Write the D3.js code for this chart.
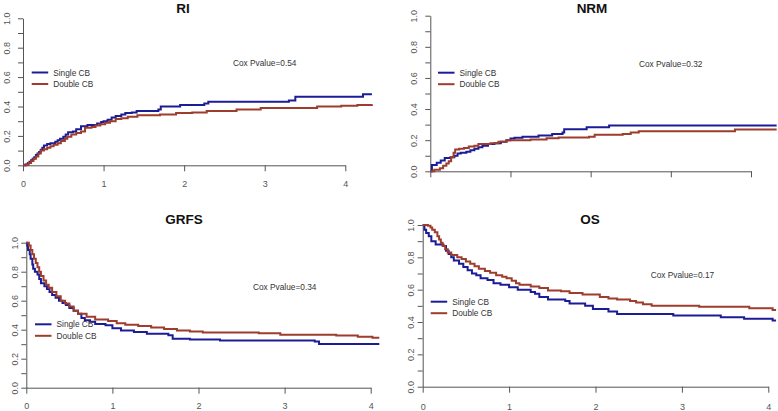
<!DOCTYPE html>
<html><head><meta charset="utf-8">
<script src="https://cdn.jsdelivr.net/npm/d3@7"></script>
<style>body{margin:0;background:#fff}svg{display:block}</style>
</head><body>
<svg id="c" width="778" height="411"></svg>
<script>
// ---------- data (time in years, cumulative value) ----------
const seriesNames = ["Single CB", "Double CB"];
const yTickValues = [0, 0.1, 0.2, 0.3, 0.4, 0.5, 0.6, 0.7, 0.8, 0.9, 1.0];
const yTickLabels = ["0.0", "", "0.2", "", "0.4", "", "0.6", "", "0.8", "", "1.0"];
const xTickValues = [0, 1, 2, 3, 4];
const xTickLabels = ["0", "1", "2", "3", "4"];
const panelTitles = ["RI", "NRM", "GRFS", "OS"];
const coxPvalues = ["0.54", "0.32", "0.34", "0.17"];

const riSingle = [[0,0],[0.03,0.005],[0.06,0.015],[0.08,0.025],[0.1,0.035],[0.12,0.045],[0.14,0.055],[0.16,0.07],[0.18,0.08],[0.2,0.09],[0.22,0.105],[0.24,0.12],[0.26,0.135],[0.3,0.145],[0.34,0.15],[0.4,0.16],[0.43,0.17],[0.46,0.18],[0.5,0.195],[0.53,0.21],[0.56,0.225],[0.62,0.23],[0.66,0.245],[0.72,0.265],[0.8,0.275],[0.92,0.285],[0.97,0.295],[1.0,0.3],[1.05,0.31],[1.1,0.325],[1.15,0.335],[1.22,0.345],[1.27,0.355],[1.35,0.36],[1.41,0.37],[1.68,0.38],[1.71,0.4],[1.95,0.41],[2.25,0.42],[2.3,0.433],[3.3,0.44],[3.38,0.467],[4.22,0.483],[4.33,0.483]];
const riDouble = [[0,0],[0.04,0.005],[0.07,0.015],[0.1,0.03],[0.13,0.045],[0.16,0.06],[0.19,0.08],[0.22,0.1],[0.26,0.11],[0.3,0.12],[0.34,0.13],[0.38,0.14],[0.43,0.15],[0.47,0.165],[0.52,0.18],[0.55,0.195],[0.6,0.21],[0.66,0.22],[0.72,0.23],[0.77,0.255],[0.85,0.26],[0.9,0.27],[0.96,0.28],[1.02,0.29],[1.08,0.3],[1.15,0.315],[1.22,0.32],[1.3,0.33],[1.42,0.34],[1.7,0.345],[1.9,0.355],[2.1,0.36],[2.28,0.37],[2.65,0.38],[2.95,0.39],[3.65,0.4],[3.95,0.405],[4.15,0.41],[4.33,0.415]];

const nrmSingle = [[0,0],[0.02,0.04],[0.08,0.055],[0.13,0.07],[0.18,0.085],[0.25,0.09],[0.3,0.1],[0.34,0.115],[0.38,0.12],[0.45,0.125],[0.5,0.135],[0.55,0.145],[0.6,0.155],[0.65,0.165],[0.72,0.175],[0.8,0.18],[0.88,0.19],[0.95,0.2],[1.0,0.21],[1.05,0.215],[1.15,0.222],[1.35,0.23],[1.52,0.24],[1.65,0.25],[1.67,0.27],[1.95,0.283],[2.23,0.295],[4.32,0.295]];
const nrmDouble = [[0,0],[0.05,0.01],[0.12,0.02],[0.16,0.035],[0.2,0.05],[0.23,0.065],[0.26,0.09],[0.29,0.12],[0.31,0.14],[0.36,0.145],[0.42,0.15],[0.48,0.16],[0.55,0.165],[0.6,0.175],[0.75,0.18],[0.85,0.19],[0.95,0.2],[1.25,0.205],[1.45,0.212],[1.6,0.218],[1.98,0.222],[2.05,0.235],[2.4,0.24],[2.5,0.25],[2.6,0.258],[3.8,0.268],[4.32,0.268]];

const grfsSingle = [[0,1],[0.01,0.98],[0.02,0.95],[0.04,0.92],[0.05,0.89],[0.07,0.85],[0.08,0.82],[0.1,0.8],[0.13,0.78],[0.15,0.75],[0.17,0.72],[0.21,0.7],[0.24,0.68],[0.27,0.66],[0.3,0.64],[0.34,0.62],[0.38,0.6],[0.42,0.585],[0.46,0.57],[0.5,0.55],[0.55,0.53],[0.6,0.51],[0.64,0.48],[0.68,0.465],[0.74,0.455],[0.8,0.44],[0.92,0.43],[1.0,0.41],[1.1,0.395],[1.25,0.385],[1.4,0.372],[1.65,0.362],[1.7,0.338],[1.9,0.332],[2.25,0.325],[3.35,0.318],[3.4,0.302],[4.1,0.302]];
const grfsDouble = [[0,1],[0.03,0.98],[0.05,0.95],[0.07,0.92],[0.09,0.89],[0.11,0.86],[0.13,0.83],[0.15,0.8],[0.17,0.77],[0.2,0.74],[0.23,0.71],[0.26,0.69],[0.3,0.66],[0.35,0.63],[0.4,0.6],[0.45,0.58],[0.5,0.56],[0.55,0.53],[0.6,0.51],[0.7,0.49],[0.8,0.47],[0.95,0.46],[1.05,0.445],[1.15,0.435],[1.3,0.425],[1.45,0.415],[1.6,0.405],[1.75,0.395],[1.9,0.388],[2.05,0.38],[2.7,0.375],[2.95,0.365],[3.6,0.36],[3.85,0.352],[4.02,0.345],[4.1,0.345]];

const osSingle = [[0,1],[0.02,0.97],[0.04,0.95],[0.07,0.93],[0.1,0.9],[0.15,0.88],[0.24,0.87],[0.27,0.84],[0.3,0.82],[0.33,0.8],[0.36,0.78],[0.42,0.76],[0.47,0.74],[0.52,0.72],[0.57,0.7],[0.62,0.69],[0.67,0.67],[0.75,0.66],[0.82,0.64],[0.9,0.63],[1.0,0.615],[1.1,0.6],[1.25,0.585],[1.3,0.575],[1.35,0.555],[1.45,0.54],[1.65,0.53],[1.7,0.515],[1.88,0.5],[1.97,0.48],[2.15,0.465],[2.25,0.45],[2.9,0.44],[3.45,0.43],[3.72,0.42],[4.05,0.41],[4.09,0.41]];
const osDouble = [[0,1],[0.06,0.995],[0.09,0.985],[0.11,0.97],[0.14,0.955],[0.17,0.93],[0.19,0.91],[0.21,0.89],[0.23,0.87],[0.26,0.85],[0.29,0.83],[0.33,0.815],[0.4,0.8],[0.45,0.79],[0.5,0.775],[0.55,0.76],[0.6,0.745],[0.65,0.73],[0.72,0.715],[0.78,0.705],[0.85,0.69],[0.92,0.68],[0.97,0.67],[1.03,0.655],[1.08,0.64],[1.12,0.63],[1.25,0.62],[1.35,0.61],[1.45,0.595],[1.6,0.59],[1.7,0.58],[1.85,0.57],[2.05,0.555],[2.15,0.545],[2.25,0.54],[2.4,0.53],[2.47,0.52],[2.55,0.51],[2.65,0.5],[3.2,0.495],[3.78,0.485],[4.05,0.474],[4.09,0.474]];

const panelData = [[riSingle, riDouble],[nrmSingle, nrmDouble],[grfsSingle, grfsDouble],[osSingle, osDouble]];

// ---------- layout (not data) ----------
const colors = ["#1c1c96", "#9c3d2d"];
const layout = [
  {x0:23, x4:345.3, y0:165.3, y1:18.3, titleX:183, titleY:13, xLabels:true, xLabOff:22, yLabOff:16, legX:31.7, legY:72.5, coxX:233, coxY:66},
  {x0:430.3, x4:751, y0:171.3, y1:15.7, titleX:592, titleY:13, xLabels:false, xLabOff:22, yLabOff:16, legX:438, legY:72.7, coxX:639, coxY:67},
  {x0:26.3, x4:370.7, y0:387.7, y1:242.7, titleX:184, titleY:224, xLabels:true, xLabOff:21, yLabOff:11, legX:35, legY:324.3, coxX:253, coxY:289.5},
  {x0:422.7, x4:768.3, y0:386.7, y1:225, titleX:590, titleY:224, xLabels:true, xLabOff:23, yLabOff:12, legX:430.7, legY:301.7, coxX:650.7, coxY:278}
];

const svg = d3.select("#c");
const axisColor = "#555";
const font = "'Liberation Sans', Arial, sans-serif";

layout.forEach((L, i) => {
  const g = svg.append("g");
  const x = d3.scaleLinear().domain([0, 4]).range([L.x0, L.x4]);
  const y = d3.scaleLinear().domain([0, 1]).range([L.y0, L.y1]);

  // y axis
  const ya = g.append("g").attr("transform", `translate(${L.x0},0)`)
    .call(d3.axisLeft(y).tickValues(yTickValues).tickSize(5).tickSizeOuter(0)
      .tickFormat((d, k) => yTickLabels[k]));
  ya.select(".domain").attr("stroke", axisColor);
  ya.selectAll(".tick line").attr("stroke", axisColor);
  ya.selectAll(".tick text").attr("fill", "#555").style("font", `9px ${font}`)
    .attr("x", 0).attr("dy", 0)
    .attr("text-anchor", "middle")
    .attr("transform", `translate(${-L.yLabOff},0) rotate(-90) translate(0,3)`);

  // x axis
  const xa = g.append("g").attr("transform", `translate(0,${L.y0})`)
    .call(d3.axisBottom(x).tickValues(xTickValues).tickSize(6).tickSizeOuter(0)
      .tickFormat((d, k) => L.xLabels ? xTickLabels[k] : ""));
  xa.select(".domain").attr("stroke", axisColor);
  xa.selectAll(".tick line").attr("stroke", axisColor);
  xa.selectAll(".tick text").attr("fill", "#555").style("font", `9px ${font}`)
    .attr("y", L.xLabOff).attr("dy", 0);

  // curves
  const line = d3.line().x(d => x(d[0])).y(d => y(d[1])).curve(d3.curveStepAfter);
  panelData[i].forEach((s, k) => {
    g.append("path").datum(s).attr("d", line).attr("fill", "none")
      .attr("stroke", colors[k]).attr("stroke-width", 2);
  });

  // title
  g.append("text").attr("x", L.titleX).attr("y", L.titleY).attr("text-anchor", "middle")
    .style("font", `bold 13.5px ${font}`).attr("fill", "#111").text(panelTitles[i]);

  // legend
  seriesNames.forEach((n, k) => {
    const ly = L.legY + k * 11.5;
    g.append("line").attr("x1", L.legX).attr("x2", L.legX + 16.5)
      .attr("y1", ly).attr("y2", ly).attr("stroke", colors[k]).attr("stroke-width", 2);
    g.append("text").attr("x", L.legX + 21.5).attr("y", ly + 3)
      .style("font", `8.3px ${font}`).attr("fill", "#333").text(n);
  });

  // cox p
  g.append("text").attr("x", L.coxX).attr("y", L.coxY)
    .style("font", `8.3px ${font}`).attr("fill", "#333").text("Cox Pvalue=" + coxPvalues[i]);
});
</script>
</body></html>
